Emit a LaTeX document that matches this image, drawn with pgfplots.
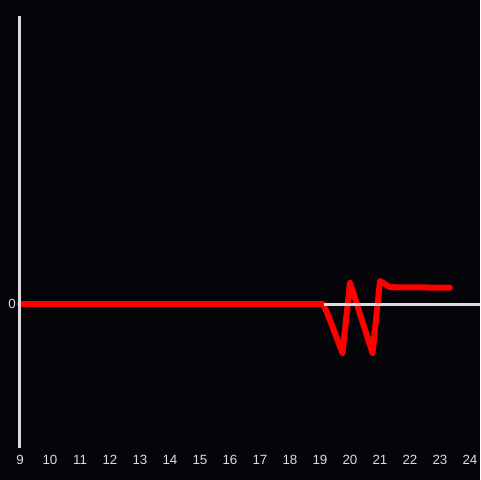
\documentclass[border=0pt]{standalone}
\usepackage{pgfplots}
\pgfplotsset{compat=1.18}
\usepackage{fontspec}
\setmainfont{Liberation Sans}
\definecolor{bg}{RGB}{5,4,8}
\definecolor{ax}{RGB}{220,220,220}
\definecolor{ln}{RGB}{255,0,0}
\begin{document}
\begin{tikzpicture}[x=1pt,y=1pt]
\fill[bg] (0,0) rectangle (360,360);
\useasboundingbox (0,0) rectangle (360,360);
\begin{axis}[
  at={(15pt,24pt)}, anchor=south west,
  scale only axis, width=345pt, height=324pt,
  xmin=9, xmax=24.3333, ymin=-3, ymax=6,
  axis line style={draw=none},
  major tick length=0pt,
  xtick={9,10,...,24}, ytick={0},
  /pgf/number format/assume math mode=true,
  tick label style={font=\fontsize{10}{12}\selectfont, text=ax},
  xticklabel style={anchor=center, yshift=-9pt},
  yticklabel style={anchor=center, xshift=-6pt},
  clip=false,
]
\addplot[ln, line width=4.5pt, line join=round, line cap=round] coordinates {
(9,0) (19,0) (19.1,0) (19.25,-0.2) (19.75,-1.02) (20.0,0.44)
(20.75,-1.02) (21.0,0.48) (21.33,0.35) (23.33,0.34)
};
\draw[ax, line width=2.25pt] (axis cs:9,-3) -- (axis cs:9,6);
\draw[ax, line width=2.25pt] (axis cs:19.15,0) -- (axis cs:24.3333,0);
\end{axis}
\end{tikzpicture}
\end{document}
